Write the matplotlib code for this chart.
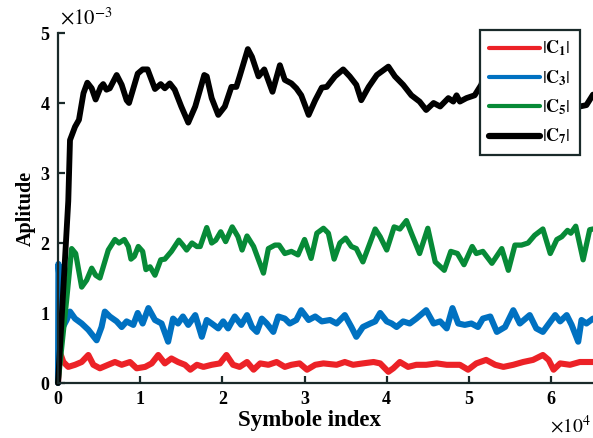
import matplotlib
matplotlib.use("Agg")
import matplotlib.pyplot as plt

# ---- data (x in units of 1e4, y in units of 1e-3) ----
c7_x = [0.0, 0.125, 0.146, 0.207, 0.255, 0.31, 0.357, 0.41, 0.458, 0.52, 0.55, 0.59, 0.63, 0.714, 0.775, 0.835, 0.864,
        0.97, 1.03, 1.09, 1.18, 1.25, 1.30, 1.36, 1.42, 1.50, 1.585, 1.67, 1.78, 1.81, 1.87, 1.95, 2.03, 2.11, 2.17,
        2.21, 2.31, 2.36, 2.44, 2.51, 2.61, 2.70, 2.76, 2.84, 2.90, 2.96, 3.05, 3.13, 3.21, 3.27, 3.37, 3.47, 3.55,
        3.63, 3.69, 3.78, 3.88, 4.02, 4.10, 4.20, 4.30, 4.40, 4.48, 4.57, 4.65, 4.75, 4.81, 4.85, 4.89, 4.97, 5.07,
        5.15, 5.19, 5.25, 5.35, 5.50, 5.65, 5.80, 5.95, 6.10, 6.25, 6.35, 6.43, 6.51]
c7_y = [0.0, 2.6, 3.47, 3.66, 3.76, 4.14, 4.29, 4.21, 4.05, 4.23, 4.27, 4.19, 4.21, 4.40, 4.26, 4.04, 4.00,
        4.42, 4.48, 4.48, 4.20, 4.27, 4.21, 4.28, 4.19, 3.95, 3.72, 3.95, 4.40, 4.38, 4.07, 3.83, 3.95, 4.23, 4.23,
        4.38, 4.77, 4.66, 4.38, 4.48, 4.16, 4.54, 4.33, 4.28, 4.21, 4.11, 3.83, 4.04, 4.22, 4.23, 4.38, 4.48, 4.38,
        4.26, 4.04, 4.23, 4.40, 4.52, 4.38, 4.26, 4.11, 4.02, 3.90, 4.00, 3.95, 4.07, 4.02, 4.11, 4.02, 4.07, 4.11,
        4.26, 4.42, 4.45, 4.30, 4.40, 4.20, 4.35, 4.10, 4.25, 4.00, 3.95, 3.97, 4.12]

c5_x = [0.0, 0.105, 0.166, 0.215, 0.288, 0.349, 0.41, 0.458, 0.51, 0.612, 0.693, 0.742, 0.807, 0.856, 0.888, 0.929,
        0.977, 1.03, 1.07, 1.12, 1.18, 1.25, 1.30, 1.38, 1.47, 1.52, 1.565, 1.63, 1.69, 1.73, 1.81, 1.87, 1.92, 1.98,
        2.04, 2.12, 2.19, 2.24, 2.30, 2.38, 2.44, 2.50, 2.56, 2.64, 2.69, 2.76, 2.84, 2.92, 3.00, 3.08, 3.15, 3.23,
        3.29, 3.36, 3.43, 3.50, 3.57, 3.63, 3.71, 3.86, 3.92, 4.00, 4.09, 4.16, 4.24, 4.30, 4.40, 4.50, 4.59, 4.70,
        4.78, 4.86, 4.94, 5.04, 5.09, 5.17, 5.28, 5.40, 5.48, 5.56, 5.64, 5.72, 5.80, 5.90, 5.99, 6.07, 6.13, 6.20,
        6.24, 6.30, 6.39, 6.47, 6.51]
c5_y = [0.0, 1.19, 1.92, 1.85, 1.37, 1.47, 1.64, 1.54, 1.50, 1.90, 2.05, 2.00, 2.05, 1.95, 1.77, 1.81,
        1.95, 1.88, 1.62, 1.66, 1.54, 1.76, 1.77, 1.88, 2.04, 1.97, 1.90, 2.00, 1.95, 1.95, 2.22, 2.00, 2.04, 2.16,
        2.02, 2.23, 2.09, 1.90, 2.10, 1.95, 1.76, 1.57, 1.92, 1.97, 1.97, 1.85, 1.88, 1.83, 2.05, 1.78, 2.14, 2.21,
        2.14, 1.77, 2.00, 2.07, 1.95, 1.92, 1.73, 2.20, 2.09, 1.90, 2.23, 2.20, 2.32, 2.14, 1.85, 2.21, 1.73, 1.61,
        1.88, 1.85, 1.69, 1.95, 1.85, 1.88, 1.71, 1.92, 1.61, 1.97, 1.97, 2.00, 2.11, 2.20, 1.85, 2.05, 2.09, 2.18,
        2.14, 2.24, 1.76, 2.19, 2.20]

c3_x = [0.0, 0.005, 0.06, 0.105, 0.146, 0.207, 0.288, 0.369, 0.47, 0.53, 0.57, 0.63, 0.714, 0.775, 0.835, 0.916,
        0.97, 1.03, 1.10, 1.18, 1.26, 1.34, 1.40, 1.46, 1.52, 1.585, 1.67, 1.75, 1.81, 1.87, 1.95, 2.01, 2.07, 2.15,
        2.23, 2.30, 2.36, 2.42, 2.48, 2.54, 2.62, 2.68, 2.76, 2.82, 2.90, 2.96, 3.05, 3.13, 3.21, 3.31, 3.39, 3.49,
        3.57, 3.63, 3.71, 3.80, 3.86, 3.92, 4.00, 4.06, 4.12, 4.20, 4.28, 4.36, 4.48, 4.57, 4.65, 4.73, 4.80, 4.87,
        4.95, 5.03, 5.11, 5.17, 5.26, 5.34, 5.44, 5.54, 5.62, 5.74, 5.82, 5.90, 6.05, 6.11, 6.19, 6.25, 6.33, 6.37,
        6.43, 6.51]
c3_y = [0.0, 1.7, 0.80, 0.90, 1.02, 0.92, 0.85, 0.76, 0.61, 0.80, 1.02, 0.95, 0.88, 0.80, 0.88, 0.83,
        1.00, 0.85, 1.07, 0.90, 0.85, 0.59, 0.92, 0.85, 0.95, 0.83, 0.97, 0.66, 0.90, 0.85, 0.78, 0.88, 0.78, 0.95,
        0.83, 0.97, 0.80, 0.73, 0.92, 0.85, 0.73, 0.95, 0.92, 0.85, 0.90, 1.04, 0.90, 0.95, 0.88, 0.90, 0.85, 0.97,
        0.80, 0.66, 0.80, 0.85, 0.88, 1.00, 0.88, 0.85, 0.80, 0.88, 0.85, 0.92, 1.04, 0.85, 0.88, 0.78, 1.07, 0.85,
        0.83, 0.85, 0.80, 0.92, 0.95, 0.73, 0.80, 1.04, 0.85, 0.97, 0.78, 0.73, 0.97, 0.88, 0.97, 0.83, 0.59, 0.90,
        0.85, 0.92]

c1_x = [0.0, 0.02, 0.065, 0.125, 0.207, 0.288, 0.369, 0.43, 0.51, 0.61, 0.693, 0.775, 0.876, 0.957, 1.06, 1.14,
        1.22, 1.30, 1.38, 1.46, 1.545, 1.61, 1.69, 1.77, 1.87, 1.97, 2.05, 2.13, 2.21, 2.30, 2.38, 2.46, 2.56, 2.66,
        2.76, 2.84, 2.94, 3.03, 3.13, 3.23, 3.39, 3.49, 3.59, 3.71, 3.84, 3.92, 4.02, 4.08, 4.16, 4.26, 4.36, 4.48,
        4.61, 4.73, 4.89, 4.99, 5.09, 5.21, 5.32, 5.42, 5.54, 5.66, 5.78, 5.90, 5.97, 6.03, 6.11, 6.23, 6.35, 6.51]
c1_y = [0.0, 0.45, 0.30, 0.23, 0.26, 0.30, 0.40, 0.26, 0.21, 0.26, 0.30, 0.26, 0.30, 0.21, 0.23, 0.28,
        0.40, 0.28, 0.35, 0.30, 0.26, 0.19, 0.26, 0.23, 0.26, 0.28, 0.40, 0.26, 0.23, 0.30, 0.19, 0.28, 0.26, 0.30,
        0.23, 0.26, 0.28, 0.19, 0.26, 0.28, 0.26, 0.30, 0.26, 0.28, 0.30, 0.28, 0.16, 0.21, 0.30, 0.23, 0.26, 0.26,
        0.28, 0.26, 0.26, 0.19, 0.28, 0.33, 0.26, 0.23, 0.26, 0.30, 0.33, 0.40, 0.33, 0.19, 0.28, 0.26, 0.30, 0.30]

labels = [r'$|\mathbf{C}_\mathbf{1}|$', r'$|\mathbf{C}_\mathbf{3}|$',
          r'$|\mathbf{C}_\mathbf{5}|$', r'$|\mathbf{C}_\mathbf{7}|$']
colors = ['#EC2227', '#0071C1', '#078A37', '#000000']
xticks = [0, 1, 2, 3, 4, 5, 6]
yticks = [0, 1, 2, 3, 4, 5]

plt.rcParams['font.family'] = ['Liberation Serif', 'DejaVu Serif']
plt.rcParams['mathtext.fontset'] = 'stix'

fig = plt.figure(figsize=(5.93, 4.38), dpi=100)
ax = fig.add_axes([58 / 593, 55 / 438, 535 / 593, 350 / 438])

series = [(c1_x, c1_y), (c3_x, c3_y), (c5_x, c5_y), (c7_x, c7_y)]
widths = [4.4, 4.4, 3.8, 4.2]
for (xs, ys), c, lab, lw in zip(series, colors, labels, widths):
    ax.plot(xs, ys, color=c, lw=lw, label=lab, solid_joinstyle='round', solid_capstyle='round', clip_on=False)

ax.set_xlim(0, 6.51)
ax.set_ylim(0, 5)
ax.set_xticks(xticks)
ax.set_yticks(yticks)
ax.set_xticklabels([str(t) for t in xticks])
ax.set_yticklabels([str(t) for t in yticks])
for s in ['top', 'right']:
    ax.spines[s].set_visible(False)
for s in ['left', 'bottom']:
    ax.spines[s].set_linewidth(1.6)
    ax.spines[s].set_color('#1a2a2a')
    ax.spines[s].set_zorder(5)
ax.tick_params(direction='in', length=5, width=1.6, color='#1a2a2a', labelsize=13, pad=6)
for t in ax.get_xticklabels() + ax.get_yticklabels():
    t.set_fontweight('bold')

ax.set_xlabel('Symbole index', fontsize=16.5, fontweight='bold')
ax.xaxis.set_label_coords((309 - 58) / 535, -(410 - 383) / 350)
ax.set_ylabel('Aplitude', fontsize=14.5, fontweight='bold')
ax.yaxis.set_label_coords(-(58 - 36) / 535, 0.5)

fig.text(60 / 593, 1 - 29 / 438, r'$\times10^{-3}$', fontsize=15, ha='left', va='bottom')
fig.text(591 / 593, 1 - 437 / 438, r'$\times10^{4}$', fontsize=14, ha='right', va='bottom')

leg = ax.legend(loc='upper right', bbox_to_anchor=((580 - 58) / 535, (383 - 30) / 350), borderaxespad=0,
                fontsize=13, frameon=True, fancybox=False, handlelength=2.8, handletextpad=0.15,
                labelspacing=0.55, borderpad=0.5)
leg.get_frame().set_edgecolor('#1a2a2a')
leg.get_frame().set_linewidth(1.6)
leg.get_frame().set_alpha(1)
leg.set_zorder(10)
for h in leg.get_lines():
    h.set_linewidth(3)
leg.get_lines()[3].set_linewidth(4.5)

fig.savefig('out.png', dpi=100)
